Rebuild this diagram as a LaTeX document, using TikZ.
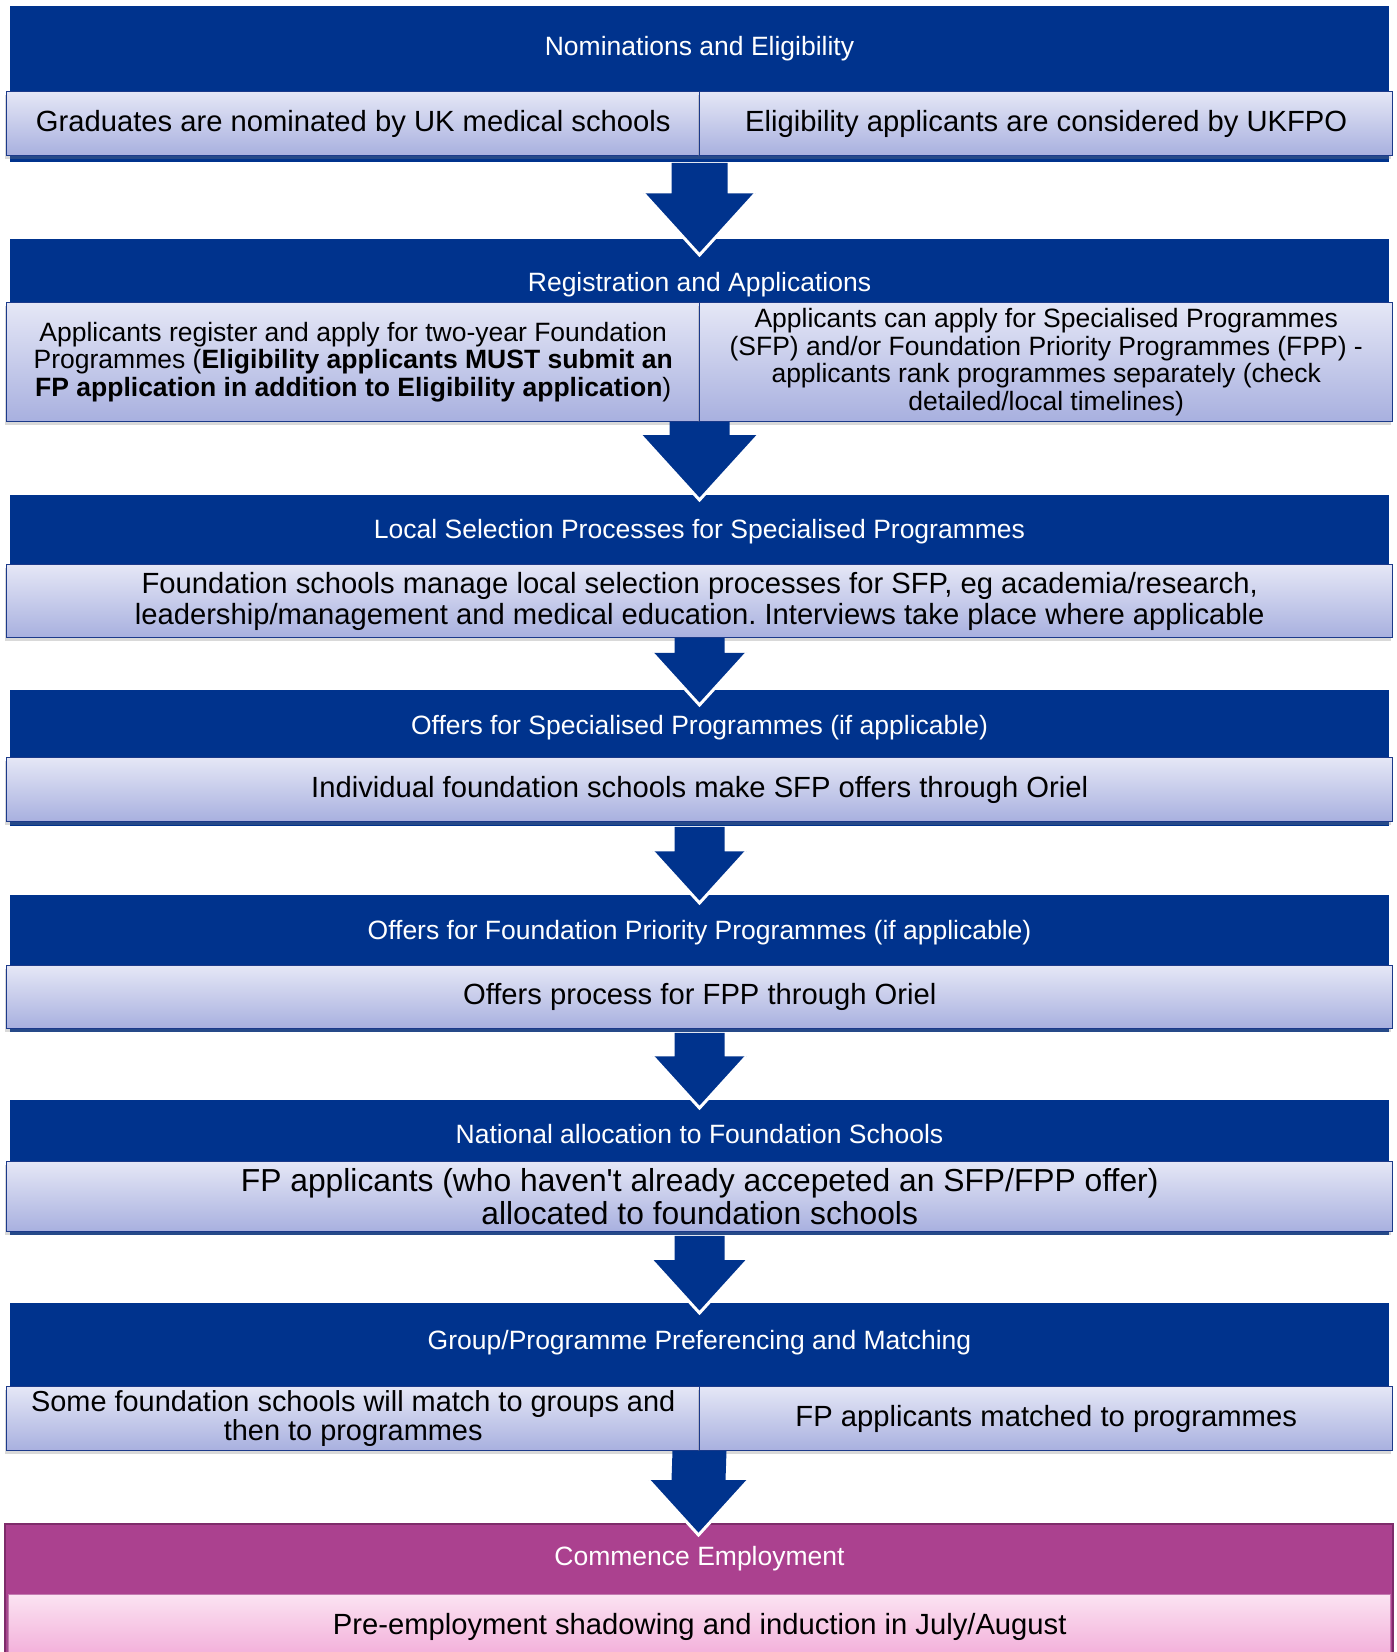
\documentclass[tikz,border=0pt]{standalone}
\usepackage{fontspec}
\setmainfont{Liberation Sans}
\usetikzlibrary{calc,shadows}
\frenchspacing
\definecolor{stageblue}{RGB}{0,51,141}
\definecolor{subedge}{RGB}{28,58,138}
\definecolor{subtop}{RGB}{229,231,246}
\definecolor{subbot}{RGB}{168,176,223}
\definecolor{pinkhead}{RGB}{171,65,143}
\definecolor{pinkedge}{RGB}{126,44,106}
\definecolor{pinktop}{RGB}{251,227,242}
\definecolor{pinkbot}{RGB}{242,172,216}
% block arrow: from, to, shaft, head, overlap
\newcommand{\stagearrow}[5]{%
  \coordinate (tip) at ($(#2.north)+(0,#5)$);
  \fill[stageblue] ($(#1.south)+(-#3,0)$) -- ($(tip)+(-#3,{-1.1*#4})$) -- ($(tip)+(-#4,{-1.1*#4})$)
    -- (tip) -- ($(tip)+(#4,{-1.1*#4})$) -- ($(tip)+(#3,{-1.1*#4})$) -- ($(#1.south)+(#3,0)$) -- cycle;
  \draw[white, line width=1.5pt] ($(tip)+(-#4,{-1.1*#4})$) -- (tip) -- ($(tip)+(#4,{-1.1*#4})$);
}
\begin{document}
\begin{tikzpicture}[x=0.5pt, y=-0.5pt,
    stagehead/.style={fill=stageblue, minimum width=689.5pt, inner sep=0pt, anchor=north},
    stagetitle/.style={text=white, inner sep=0pt, font=\fontsize{13.25}{15}\selectfont},
    stagebox/.style={draw=subedge, line width=0.7pt, top color=subtop, bottom color=subbot,
      inner sep=0pt, align=center, anchor=north west, minimum width=346.5pt, minimum height=32pt,
      font=\fontsize{14.6}{15.3}\selectfont,
      drop shadow={shadow xshift=-1pt, shadow yshift=-1.5pt, opacity=0.3}},
    widebox/.style={stagebox, minimum width=693pt}]
  \useasboundingbox (0,0) rectangle (1396,1652);

  \node[stagehead, minimum height=78pt] (h1) at (699.5,6) {};
  \node[stagetitle] (t1) at (699.5,49) {Nominations and Eligibility};
  \node[stagebox] (s1a) at (6,91) {Graduates are nominated by UK medical schools};
  \node[stagebox] (s1b) at (699,91) {Eligibility applicants are considered by UKFPO};

  \node[stagehead, minimum height=91pt] (h2) at (699.5,239) {};
  \node[stagetitle] (t2) at (699.5,285) {Registration and Applications};
  \node[stagebox, minimum height=59.5pt, font=\fontsize{13.25}{13.8}\selectfont] (s2a) at (6,302)
    {Applicants register and apply for two-year Foundation\\Programmes (\textbf{Eligibility applicants MUST submit an}\\\textbf{FP application in addition to Eligibility application})};
  \node[stagebox, minimum height=59.5pt, font=\fontsize{13.25}{13.8}\selectfont] (s2b) at (699,302)
    {Applicants can apply for Specialised Programmes\\(SFP) and/or Foundation Priority Programmes (FPP) -\\applicants rank programmes separately (check\\detailed/local timelines)};

  \node[stagehead, minimum height=71pt] (h3) at (699.5,495) {};
  \node[stagetitle] (t3) at (699.5,532) {Local Selection Processes for Specialised Programmes};
  \node[widebox, minimum height=36.5pt] (s3) at (6,564)
    {Foundation schools manage local selection processes for SFP, eg academia/research,\\leadership/management and medical education. Interviews take place where applicable};

  \node[stagehead, minimum height=68pt] (h4) at (699.5,690) {};
  \node[stagetitle] (t4) at (699.5,728) {Offers for Specialised Programmes (if applicable)};
  \node[widebox] (s4) at (6,757) {Individual foundation schools make SFP offers through Oriel};

  \node[stagehead, minimum height=68.5pt] (h5) at (699.5,895) {};
  \node[stagetitle] (t5) at (699.5,933) {Offers for Foundation Priority Programmes (if applicable)};
  \node[widebox, minimum height=31.5pt] (s5) at (6,965) {Offers process for FPP through Oriel};

  \node[stagehead, minimum height=67.5pt] (h6) at (699.5,1100) {};
  \node[stagetitle] (t6) at (699.5,1134) {National allocation to Foundation Schools};
  \node[widebox, minimum height=35pt, font=\fontsize{15.9}{16.9}\selectfont] (s6) at (6,1161)
    {FP applicants (who haven\textquotesingle t already accepeted an SFP/FPP offer)\\allocated to foundation schools};

  \node[stagehead, minimum height=73.5pt] (h7) at (699.5,1303) {};
  \node[stagetitle] (t7) at (699.5,1343) {Group/Programme Preferencing and Matching};
  \node[stagebox, font=\fontsize{14.45}{14.75}\selectfont] (s7a) at (6,1386)
    {Some foundation schools will match to groups and\\then to programmes};
  \node[stagebox] (s7b) at (699,1386) {FP applicants matched to programmes};

  \node[stagehead, fill=pinkhead, draw=pinkedge, line width=1pt, minimum width=694pt, minimum height=80pt] (h8) at (698.5,1523) {};
  \node[stagetitle] (t8) at (699.5,1559) {Commence Employment};
  \node[widebox, draw=pinkhead!70, top color=pinktop, bottom color=pinkbot, minimum width=691pt, drop shadow={opacity=0}] (s8) at (8,1594)
    {Pre-employment shadowing and induction in July/August};

  \stagearrow{h1}{h2}{28}{56}{16}
  \stagearrow{h2}{h3}{30}{59}{5}
  \stagearrow{h3}{h4}{25}{47.5}{15}
  \stagearrow{h4}{h5}{25}{47}{8}
  \stagearrow{h5}{h6}{25}{47}{8}
  \stagearrow{h6}{h7}{25}{48}{10}
  \stagearrow{h7}{h8}{27}{50}{12}
\end{tikzpicture}
\end{document}
